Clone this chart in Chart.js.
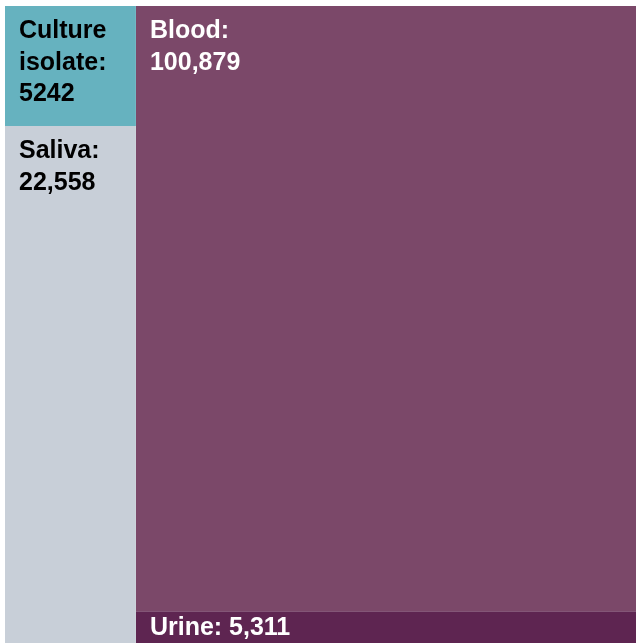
<!DOCTYPE html>
<html>
<head>
<meta charset="utf-8">
<script src="https://cdn.jsdelivr.net/npm/chart.js@4/dist/chart.umd.min.js"></script>
<style>
html,body{margin:0;padding:0;background:#ffffff;}
#wrap{width:636px;height:643px;position:relative;}
</style>
</head>
<body>
<div id="wrap"><canvas id="c" width="636" height="643"></canvas></div>
<script>
// ---- data ----
const categories = ["Culture isolate", "Saliva", "Blood", "Urine"];
const values = [5242, 22558, 100879, 5311];
const valueLabels = ["5242", "22,558", "100,879", "5,311"];
// column grouping of the treemap (which category goes into which column, top to bottom)
const columnGroups = [[0, 1], [2, 3]];
const colors = ["#66b2bf", "#c8cfd8", "#7b4869", "#5e2551"];
const textColors = ["#000000", "#000000", "#ffffff", "#ffffff"];

// ---- slice-and-dice layout in unit space (0..1) ----
const total = values.reduce((a, b) => a + b, 0);
const rects = new Array(values.length);
let xCursor = 0;
columnGroups.forEach(group => {
  const colSum = group.reduce((s, i) => s + values[i], 0);
  const w = colSum / total;
  let yCursor = 0;
  group.forEach(i => {
    const h = values[i] / colSum;
    rects[i] = {x0: xCursor, x1: xCursor + w, y0: yCursor, y1: yCursor + h};
    yCursor += h;
  });
  xCursor += w;
});

const datasets = categories.map((name, i) => {
  const r = rects[i];
  return {
    label: name,
    type: 'line',
    data: [{x: r.x0, y: r.y1}, {x: r.x1, y: r.y1}],
    fill: {value: r.y0},
    backgroundColor: colors[i],
    borderColor: colors[i],
    borderWidth: 0,
    pointRadius: 0,
    pointHoverRadius: 0,
    tension: 0
  };
});

const FONT = 'bold 25px "Liberation Sans", Arial, Helvetica, sans-serif';
const PAD_X = 14, FIRST_BASE = 32, LINE_H = 31.5;

function wrapText(ctx, text, maxW) {
  const words = text.split(' ');
  const lines = [];
  let cur = '';
  words.forEach(w => {
    const t = cur ? cur + ' ' + w : w;
    if (ctx.measureText(t).width > maxW && cur) { lines.push(cur); cur = w; }
    else cur = t;
  });
  if (cur) lines.push(cur);
  return lines;
}

const labelPlugin = {
  id: 'tmLabels',
  afterDatasetsDraw(chart) {
    const ctx = chart.ctx;
    const xs = chart.scales.x, ys = chart.scales.y;
    ctx.save();
    ctx.font = FONT;
    ctx.textAlign = 'left';
    ctx.textBaseline = 'alphabetic';
    categories.forEach((name, i) => {
      const r = rects[i];
      const px0 = xs.getPixelForValue(r.x0), px1 = xs.getPixelForValue(r.x1);
      const py0 = ys.getPixelForValue(r.y0), py1 = ys.getPixelForValue(r.y1);
      const left = Math.min(px0, px1), top = Math.min(py0, py1);
      const w = Math.abs(px1 - px0), h = Math.abs(py1 - py0);
      let lines = wrapText(ctx, name + ':', w - 2 * PAD_X).concat([valueLabels[i]]);
      ctx.fillStyle = textColors[i];
      const needed = FIRST_BASE + (lines.length - 1) * LINE_H + 10;
      if (needed > h) {
        lines = [name + ': ' + valueLabels[i]];
        ctx.textBaseline = 'middle';
        ctx.fillText(lines[0], left + PAD_X, top + h / 2 + 1);
        ctx.textBaseline = 'alphabetic';
      } else {
        lines.forEach((ln, k) => ctx.fillText(ln, left + PAD_X, top + FIRST_BASE + k * LINE_H));
      }
    });
    ctx.restore();
  }
};

new Chart(document.getElementById('c'), {
  type: 'scatter',
  data: {datasets},
  options: {
    responsive: false,
    animation: false,
    layout: {padding: {left: 5, top: 6, right: 0, bottom: 0}},
    plugins: {legend: {display: false}, tooltip: {enabled: false}},
    events: [],
    scales: {
      x: {type: 'linear', min: 0, max: 1, display: false},
      y: {type: 'linear', min: 0, max: 1, reverse: true, display: false}
    },
    elements: {line: {borderWidth: 0}}
  },
  plugins: [labelPlugin]
});
</script>
</body>
</html>
